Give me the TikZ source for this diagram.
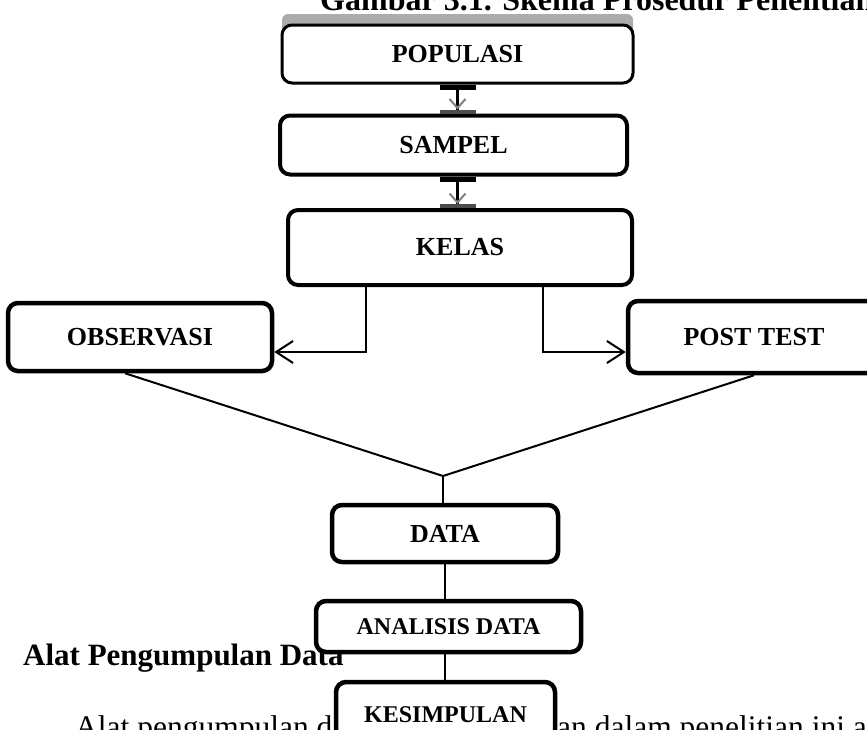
\documentclass[tikz,border=0pt]{standalone}
\usepackage{fontspec}
\setmainfont{Liberation Serif}
\usetikzlibrary{arrows.meta}
\begin{document}
\begin{tikzpicture}[x=1pt,y=-1pt,
  box/.style={draw=black, line width=4.5pt, rounded corners=10pt, fill=white,
    font=\fontsize{26}{30}\selectfont\bfseries, inner sep=0pt},
  smallbox/.style={box, font=\fontsize{24}{28}\selectfont\bfseries},
  conn/.style={line width=2pt, draw=black},
  openarrow/.style={conn, -{Straight Barb[length=17pt,width=22pt,line width=2pt]}},
  glitch/.style={line width=3pt,
    {Bar[width=36pt,line width=5pt]}-{Straight Barb[length=9pt,width=16pt,line width=2pt,color=gray]Bar[width=36pt,line width=4pt,color=gray!60!black]}},
  plaintext/.style={anchor=base west, inner sep=0pt},
  headtext/.style={plaintext, font=\fontsize{31}{36}\selectfont\bfseries},
  titletext/.style={plaintext, font=\fontsize{32}{36}\selectfont\bfseries},
  bodytext/.style={plaintext, font=\fontsize{31.5}{36}\selectfont}
]
\useasboundingbox (0,0) rectangle (867,729);

% page text
\node[titletext] (title) at (320,10) {Gambar 3.1. Skema Prosedur Penelitian};
\node[headtext] (head) at (23,665) {Alat Pengumpulan Data};
\node[bodytext] (bodyl) at (75,737) {Alat pengumpulan d};
\node[bodytext] (bodyr) at (557,737) {an dalam penelitian ini a};

% POPULASI with grey top band
\fill[gray!65, rounded corners=6pt] (282,14) rectangle (633,40);
\node[box, line width=3pt, minimum width=351pt, minimum height=58pt] (pop) at (457.5,54) {POPULASI};
\node[box, line width=4pt, minimum width=347pt, minimum height=59pt] (sam) at (453.5,145) {SAMPEL};
\node[box, line width=4pt, minimum width=344pt, minimum height=75pt] (kel) at (460,247.5) {KELAS};
\node[box, minimum width=264pt, minimum height=68pt] (obs) at (140,337) {OBSERVASI};
\node[box, minimum width=252pt, minimum height=72pt] (post) at (754,337) {POST TEST};
\node[box, minimum width=226pt, minimum height=57pt] (data) at (445,533.5) {DATA};
\node[smallbox, minimum width=265pt, minimum height=51pt] (ana) at (448.5,626.5) {ANALISIS DATA};
\node[smallbox, minimum width=219pt, minimum height=66pt] (kes) at (445.5,715) {KESIMPULAN};

\coordinate (j) at (443,476);

% connectors
\draw[glitch] (pop.south) -- (pop.south |- sam.north);
\draw[glitch] (pop.south |- sam.south) -- (pop.south |- kel.north);
\draw[openarrow] ([xshift=-94pt]kel.south) |- ([yshift=-15pt]obs.east);
\draw[openarrow] ([xshift=83pt]kel.south) |- ([yshift=-15pt]post.west);
\draw[conn] ([xshift=-15pt]obs.south) -- (j);
\draw[conn] (post.south) -- (j);
\draw[conn] (j) -- (j |- data.north);
\draw[conn] (data.south) -- (data.south |- ana.north);
\draw[conn] (data.south |- ana.south) -- (data.south |- kes.north);
\end{tikzpicture}
\end{document}
